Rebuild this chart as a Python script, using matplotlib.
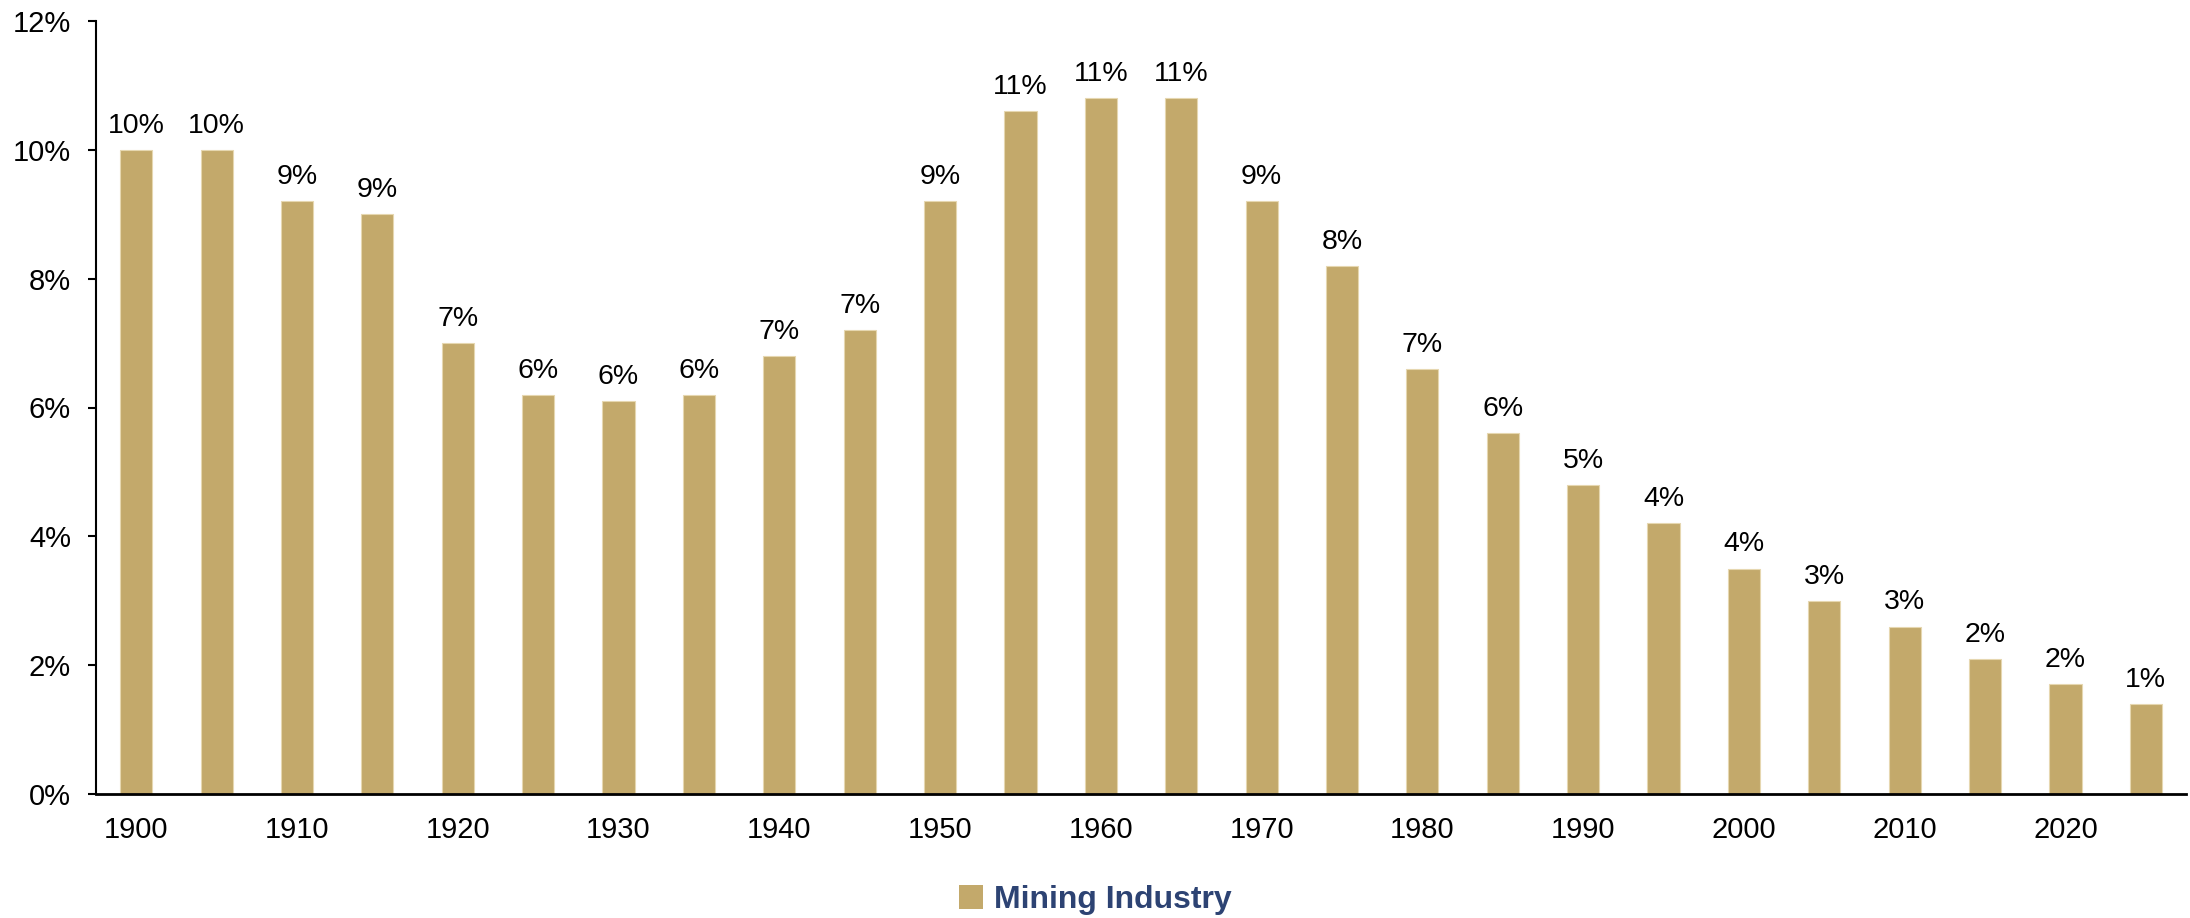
import numpy as np
import matplotlib.pyplot as plt
from matplotlib.ticker import FuncFormatter
from matplotlib.patches import Patch

plt.rcParams['font.family'] = ['Liberation Sans', 'DejaVu Sans']

years = list(range(1900, 2030, 5))
share = [10.0, 10.0, 9.2, 9.0, 7.0, 6.2, 6.1, 6.2, 6.8, 7.2,
         9.2, 10.6, 10.8, 10.8, 9.2, 8.2, 6.6, 5.6, 4.8, 4.2,
         3.5, 3.0, 2.6, 2.1, 1.7, 1.4]
labels = ['10%', '10%', '9%', '9%', '7%', '6%', '6%', '6%', '7%', '7%',
          '9%', '11%', '11%', '11%', '9%', '8%', '7%', '6%', '5%', '4%',
          '4%', '3%', '3%', '2%', '2%', '1%']
series_name = 'Mining Industry'

gold = '#C3A96B'
navy = '#2D4373'

fig = plt.figure(figsize=(21.9, 9.18), dpi=100)
ax = fig.add_axes([96/2190, 1 - 794/918, (2186-96)/2190, (794-21)/918])

x = np.arange(len(years))
bars = ax.bar(x, share, width=0.4, color=gold, edgecolor='#E6D7B0', linewidth=0.8)

for xi, v, lab in zip(x, share, labels):
    ax.annotate(lab, (xi, v), xytext=(0, 8), textcoords='offset points',
                ha='center', va='bottom', fontsize=20.5)

ax.set_xlim(-0.5, len(years) - 0.5)
ax.set_ylim(0, 12)
ax.set_yticks(np.arange(0, 13, 2))
ax.yaxis.set_major_formatter(FuncFormatter(lambda v, p: f'{v:.0f}%'))
ax.set_xticks(x[::2])
ax.set_xticklabels([str(y) for y in years[::2]])

ax.tick_params(axis='y', length=6, width=1.5, pad=12, labelsize=21)
ax.tick_params(axis='x', length=0, pad=16, labelsize=21)

for s in ['top', 'right']:
    ax.spines[s].set_visible(False)
ax.spines['left'].set_linewidth(1.5)
ax.spines['bottom'].set_linewidth(2)

leg = fig.legend(handles=[Patch(facecolor=gold, label=series_name)],
                 loc='center', bbox_to_anchor=(0.5, 1 - 900/918), frameon=False,
                 handlelength=0.75, handleheight=0.75, handletextpad=0.35,
                 prop={'size': 23, 'weight': 'bold'})
for t in leg.get_texts():
    t.set_color(navy)

fig.savefig('out.png', dpi=100)
